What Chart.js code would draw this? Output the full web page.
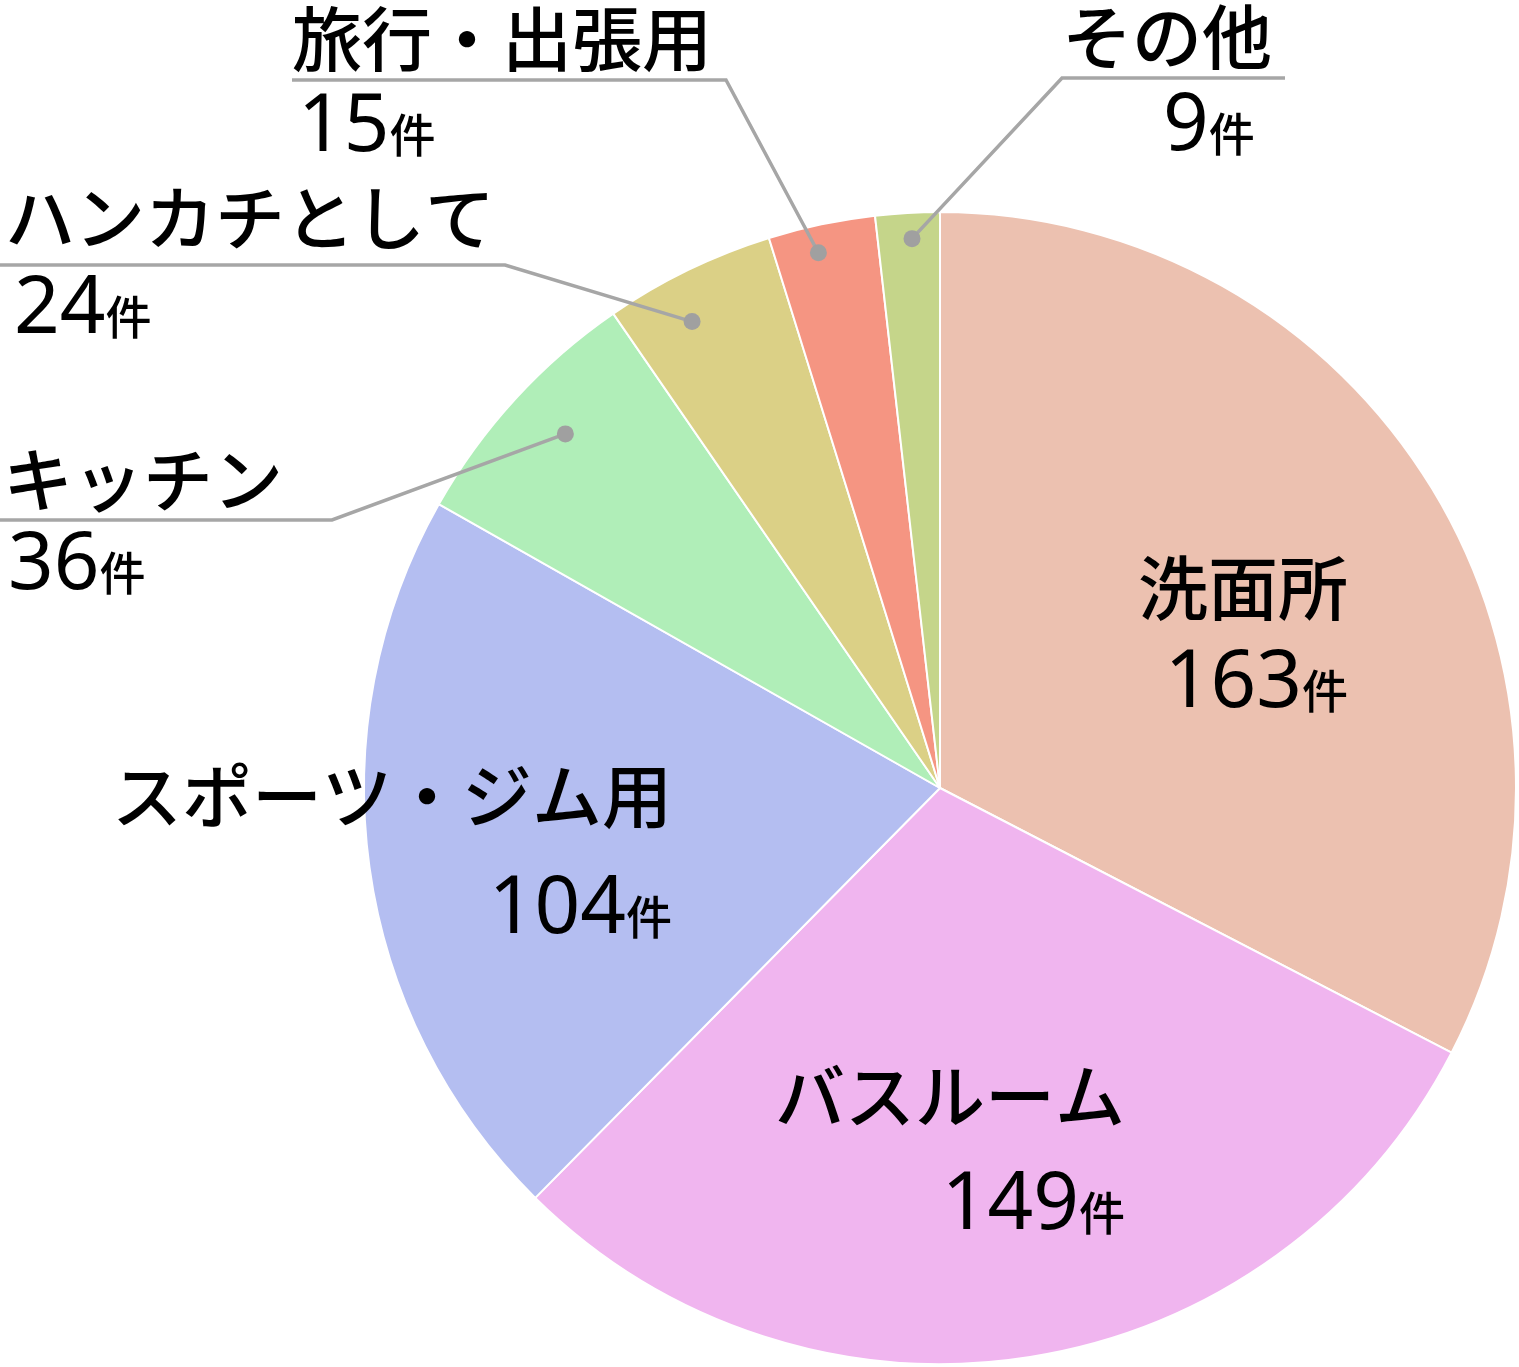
<!DOCTYPE html>
<html lang="ja">
<head>
<meta charset="utf-8">
<script src="https://cdn.jsdelivr.net/npm/chart.js@4.4.1/dist/chart.umd.min.js"></script>
<style>
  html, body { margin: 0; padding: 0; background: #fff; }
  canvas { display: block; }
</style>
</head>
<body>
<canvas id="pie" width="1519" height="1367"></canvas>
<script>
const categories = ["洗面所", "バスルーム", "スポーツ・ジム用", "キッチン", "ハンカチとして", "旅行・出張用", "その他"];
const counts = [163, 149, 104, 36, 24, 15, 9];
const unit = "件";
const colors = ["#ECC1B0", "#F0B5EF", "#B4BEF1", "#B0EEB8", "#DBD086", "#F59582", "#C5D58A"];

const FONT = '"Noto Sans CJK JP", "Noto Sans", sans-serif';
const NUM_FONT = '"Noto Sans", "Noto Sans CJK JP", sans-serif';

// label layout: inside labels are right aligned blocks, outside ones have a leader line
// dotR = radius fraction, dotT = position along the slice's arc (0..1)
const labelLayout = [
  { x: 1348, y1: 615, y2: 707, align: "right" },
  { x: 1125, y1: 1123, y2: 1229, align: "right" },
  { x: 672, y1: 823, y2: 933, align: "right" },
  { x: 3, y1: 507, y2: 589, nx: 8, align: "left", line: [[0, 520], [332, 520]], dotR: 0.895, dotT: 0.535 },
  { x: 5, y1: 245, y2: 333, nx: 14, align: "left", line: [[0, 265], [505, 265]], dotR: 0.917, dotT: 0.38 },
  { x: 292, y1: 66, y2: 151, nx: 298, align: "left", line: [[292, 80], [726, 80]], dotR: 0.953, dotT: 0.415 },
  { x: 1062, y1: 64, y2: 150, nx: 1163, align: "left", line: [[1285, 78], [1062, 78]], dotR: 0.955, dotT: 0.55 }
];

const labelPlugin = {
  id: "pieLabels",
  afterDatasetsDraw(chart) {
    const ctx = chart.ctx;
    const meta = chart.getDatasetMeta(0);
    ctx.save();
    meta.data.forEach((arc, i) => {
      const L = labelLayout[i];
      if (L.line) {
        const a = arc.startAngle + (arc.endAngle - arc.startAngle) * L.dotT;
        const dx = arc.x + Math.cos(a) * arc.outerRadius * L.dotR;
        const dy = arc.y + Math.sin(a) * arc.outerRadius * L.dotR;
        ctx.strokeStyle = "#a6a6a6";
        ctx.lineWidth = 3.5;
        ctx.lineJoin = "miter";
        ctx.beginPath();
        ctx.moveTo(L.line[0][0], L.line[0][1]);
        ctx.lineTo(L.line[1][0], L.line[1][1]);
        ctx.lineTo(dx, dy);
        ctx.stroke();
        ctx.fillStyle = "#a0a0a0";
        ctx.beginPath();
        ctx.arc(dx, dy, 8.5, 0, Math.PI * 2);
        ctx.fill();
      }
      ctx.fillStyle = "#000";
      ctx.textBaseline = "alphabetic";
      // category name
      ctx.font = "500 70px " + FONT;
      ctx.textAlign = L.align;
      ctx.fillText(categories[i], L.x, L.y1);
      // value + unit
      const num = String(counts[i]);
      ctx.font = "400 80px " + NUM_FONT;
      const nw = ctx.measureText(num).width;
      ctx.font = "500 46px " + FONT;
      const uw = ctx.measureText(unit).width;
      let sx = L.align === "right" ? L.x - nw - uw : L.nx;
      ctx.textAlign = "left";
      ctx.font = "400 80px " + NUM_FONT;
      ctx.fillText(num, sx, L.y2);
      ctx.font = "500 46px " + FONT;
      ctx.fillText(unit, sx + nw, L.y2 + 1);
    });
    ctx.restore();
  }
};

new Chart(document.getElementById("pie").getContext("2d"), {
  type: "pie",
  data: {
    labels: categories,
    datasets: [{
      data: counts,
      backgroundColor: colors,
      borderColor: "#ffffff",
      borderWidth: 2
    }]
  },
  options: {
    responsive: false,
    animation: false,
    layout: { padding: { left: 363, right: 2, top: 211, bottom: 2 } },
    plugins: { legend: { display: false }, tooltip: { enabled: false } }
  },
  plugins: [labelPlugin]
});
</script>
</body>
</html>
